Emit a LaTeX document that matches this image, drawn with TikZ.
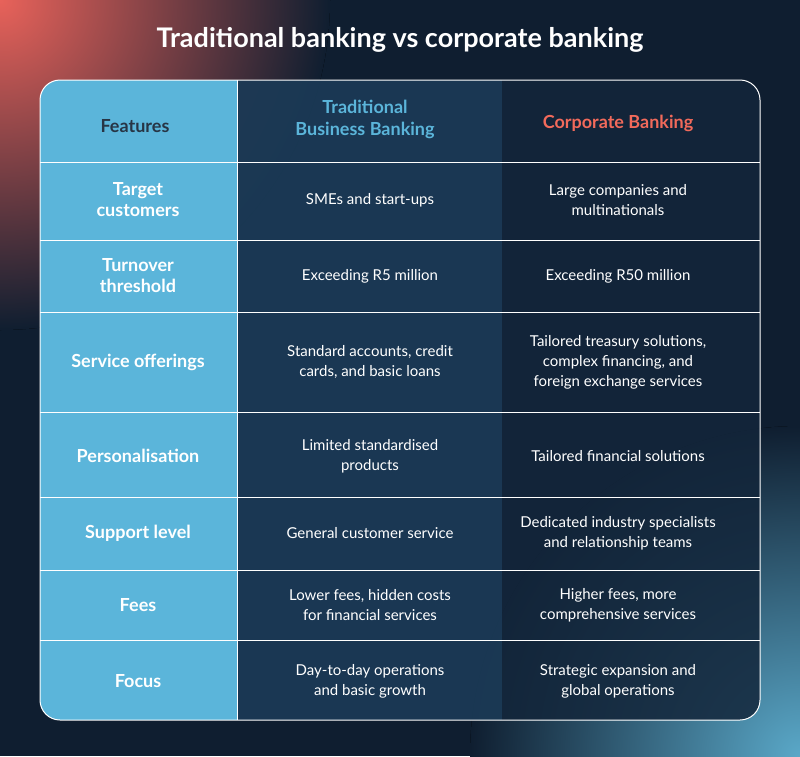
\documentclass[tikz,border=0pt]{standalone}
\usepackage{fontspec}
\setmainfont{Lato}
\usetikzlibrary{positioning}
\definecolor{navy}{HTML}{0F1E30}
\definecolor{featblue}{HTML}{5BB5DA}
\definecolor{midcol}{HTML}{1B3A56}
\definecolor{rightcol}{HTML}{13263B}
\definecolor{coral}{HTML}{F26A5B}
\definecolor{glowred}{HTML}{E8625A}
\definecolor{glowteal}{HTML}{5AA8C8}
\tikzstyle{feature}=[text=white, font=\bfseries\fontsize{18}{21}\selectfont, align=center]
\tikzstyle{cell}=[text=white, font=\fontsize{15}{20}\selectfont, align=center]
\tikzstyle{header}=[font=\bfseries\fontsize{18}{22}\selectfont, align=center]
\tikzstyle{rowline}=[draw=white, line width=1pt]
\newcommand{\tablerow}[5]{%
  \node (#1F) [feature] at (138,#2) {#3};
  \node (#1T) [cell] at (370,#2) {#4};
  \node (#1C) [cell] at (618,#2) {#5};}
\begin{document}
\begin{tikzpicture}[x=1pt,y=-1pt]
  \useasboundingbox (0,0) rectangle (800,756);
  % background with glows
  \begin{scope}
    \clip (0,0) rectangle (800,756);
    \fill[navy] (0,0) rectangle (800,756);
    \fill[inner color=glowred, outer color=navy] (0,0) circle (330);
    \fill[inner color=glowteal, outer color=navy] (800,756) circle (330);
  \end{scope}
  \node (title) [text=white, font=\bfseries\fontsize{27}{30}\selectfont] at (400,40) {Traditional banking vs corporate banking};
  % table columns
  \begin{scope}
    \clip[rounded corners=20] (40,80) rectangle (760,720);
    \fill[featblue] (40,80) rectangle (237,720);
    \fill[midcol, opacity=0.92] (237,80) rectangle (502,720);
    \fill[rightcol, opacity=0.85] (502,80) rectangle (760,720);
    \foreach \y in {162,240,312,412,497,570,640}
      \path[rowline] (40,\y) -- (760,\y);
    \path[rowline] (237,80) -- (237,720);
  \end{scope}
  \draw[white, line width=1pt, rounded corners=20] (40,80) rectangle (760,720);
  % header
  \node (head) [header, text=navy!90] at (135,126) {Features};
  \node (headT) [header, text=featblue] at (365,119) {Traditional\\Business Banking};
  \node (headC) [header, text=coral] at (618,123) {Corporate Banking};
  % rows
  \tablerow{target}{200}{Target\\customers}{SMEs and start-ups}{Large companies and\\multinationals}
  \tablerow{turnover}{276}{Turnover\\threshold}{Exceeding R5 million}{Exceeding R50 million}
  \tablerow{service}{362}{Service offerings}{Standard accounts, credit\\cards, and basic loans}{Tailored treasury solutions,\\complex financing, and\\foreign exchange services}
  \tablerow{personal}{456}{Personalisation}{Limited standardised\\products}{Tailored financial solutions}
  \tablerow{support}{533}{Support level}{General customer service}{Dedicated industry specialists\\and relationship teams}
  \tablerow{fees}{605}{Fees}{Lower fees, hidden costs\\for financial services}{Higher fees, more\\comprehensive services}
  \tablerow{focus}{681}{Focus}{Day-to-day operations\\and basic growth}{Strategic expansion and\\global operations}
\end{tikzpicture}
\end{document}
